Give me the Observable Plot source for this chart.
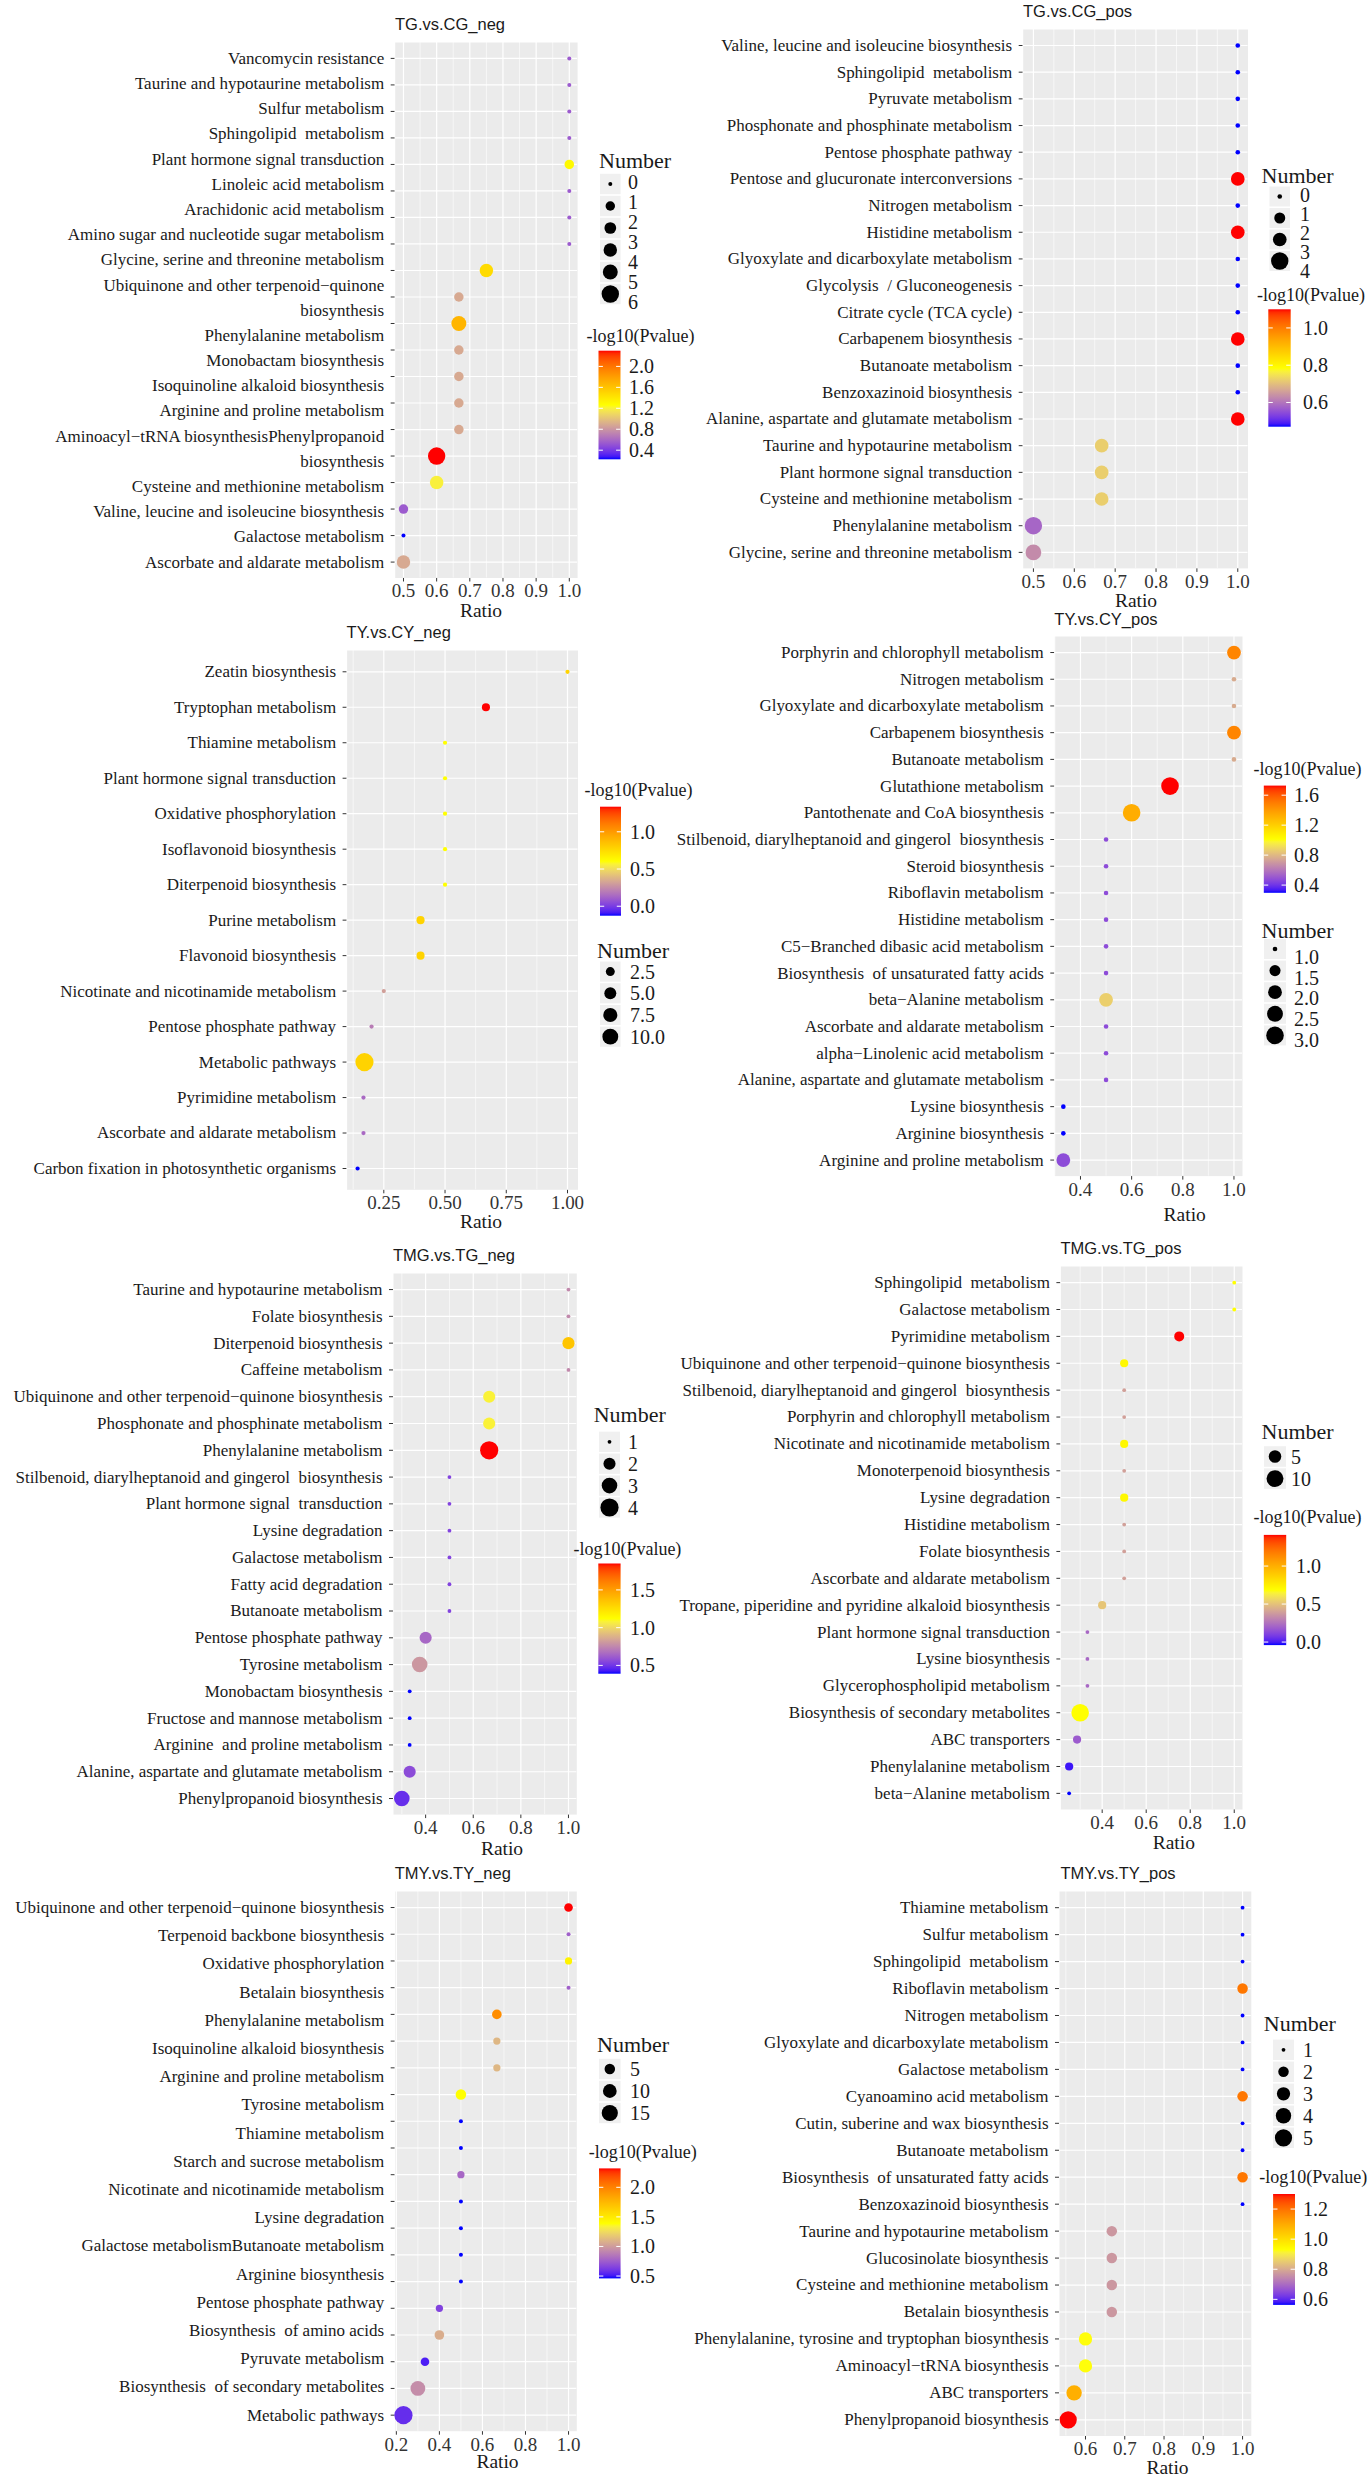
<!DOCTYPE html>
<html><head><meta charset="utf-8">
<script src="https://cdn.jsdelivr.net/npm/d3@7"></script>
<script src="https://cdn.jsdelivr.net/npm/@observablehq/plot@0.6"></script>
<style>
html,body{margin:0;padding:0;background:#fff;}
#page{position:relative;width:1370px;height:2479px;overflow:hidden;background:#fff;}
.panel{position:absolute;}
</style></head><body><div id="page"></div>
<script>
// ---------------- DATA ----------------
// Panel 1: TG.vs.CG_neg
const p1Pathways = ["Vancomycin resistance","Taurine and hypotaurine metabolism","Sulfur metabolism","Sphingolipid\u00a0 metabolism","Plant hormone signal transduction","Linoleic acid metabolism","Arachidonic acid metabolism","Amino sugar and nucleotide sugar metabolism","Glycine, serine and threonine metabolism","Ubiquinone and other terpenoid−quinone biosynthesis","Phenylalanine metabolism","Monobactam biosynthesis","Isoquinoline alkaloid biosynthesis","Arginine and proline metabolism","Aminoacyl−tRNA biosynthesis","Phenylpropanoid biosynthesis","Cysteine and methionine metabolism","Valine, leucine and isoleucine biosynthesis","Galactose metabolism","Ascorbate and aldarate metabolism"];
const p1Labels = ["Vancomycin resistance","Taurine and hypotaurine metabolism","Sulfur metabolism","Sphingolipid\u00a0 metabolism","Plant hormone signal transduction","Linoleic acid metabolism","Arachidonic acid metabolism","Amino sugar and nucleotide sugar metabolism","Glycine, serine and threonine metabolism","Ubiquinone and other terpenoid−quinone","biosynthesis","Phenylalanine metabolism","Monobactam biosynthesis","Isoquinoline alkaloid biosynthesis","Arginine and proline metabolism","Aminoacyl−tRNA biosynthesisPhenylpropanoid","biosynthesis","Cysteine and methionine metabolism","Valine, leucine and isoleucine biosynthesis","Galactose metabolism","Ascorbate and aldarate metabolism"];
const p1Ratio = [1,1,1,1,1,1,1,1,0.75,0.667,0.667,0.667,0.667,0.667,0.667,0.6,0.6,0.5,0.5,0.5];
const p1Number = [0,0,0,0,1,0,0,0,3,1,4,1,1,1,1,6,3,1,0,3];
const p1LogP = [0.54,0.54,0.54,0.54,1.30,0.54,0.54,0.54,1.47,0.89,1.68,0.89,0.89,0.89,0.89,2.30,1.20,0.54,0.226,0.89];
const p1XTicks = [0.5,0.6,0.7,0.8,0.9,1.0];
const p1SizeBreaks = [0,1,2,3,4,5,6];
const p1SizeKeys = [0,1,2,3,4,6];
const p1ColorBreaks = [0.4,0.8,1.2,1.6,2.0];

// Panel 2: TG.vs.CG_pos
const p2Pathways = ["Valine, leucine and isoleucine biosynthesis","Sphingolipid\u00a0 metabolism","Pyruvate metabolism","Phosphonate and phosphinate metabolism","Pentose phosphate pathway","Pentose and glucuronate interconversions","Nitrogen metabolism","Histidine metabolism","Glyoxylate and dicarboxylate metabolism","Glycolysis\u00a0 / Gluconeogenesis","Citrate cycle (TCA cycle)","Carbapenem biosynthesis","Butanoate metabolism","Benzoxazinoid biosynthesis","Alanine, aspartate and glutamate metabolism","Taurine and hypotaurine metabolism","Plant hormone signal transduction","Cysteine and methionine metabolism","Phenylalanine metabolism","Glycine, serine and threonine metabolism"];
const p2Ratio = [1,1,1,1,1,1,1,1,1,1,1,1,1,1,1,0.667,0.667,0.667,0.5,0.5];
const p2Number = [0,0,0,0,0,2,0,2,0,0,0,2,0,0,2,2,2,2,4,3];
const p2LogP = [0.47,0.47,0.47,0.47,0.47,1.10,0.47,1.10,0.47,0.47,0.47,1.10,0.47,0.47,1.10,0.72,0.72,0.72,0.58,0.63];
const p2XTicks = [0.5,0.6,0.7,0.8,0.9,1.0];
const p2SizeBreaks = [0,1,2,3,4];
const p2SizeKeys = [0,1,2,4];
const p2ColorBreaks = [0.6,0.8,1.0];

// Panel 3: TY.vs.CY_neg
const p3Pathways = ["Zeatin biosynthesis","Tryptophan metabolism","Thiamine metabolism","Plant hormone signal transduction","Oxidative phosphorylation","Isoflavonoid biosynthesis","Diterpenoid biosynthesis","Purine metabolism","Flavonoid biosynthesis","Nicotinate and nicotinamide metabolism","Pentose phosphate pathway","Metabolic pathways","Pyrimidine metabolism","Ascorbate and aldarate metabolism","Carbon fixation in photosynthetic organisms"];
const p3Ratio = [1.0,0.667,0.5,0.5,0.5,0.5,0.5,0.4,0.4,0.25,0.2,0.171,0.167,0.167,0.143];
const p3Number = [1,2,1,1,1,1,1,2,2,1,1,14,1,1,1];
const p3LogP = [0.78,1.337,0.605,0.605,0.605,0.605,0.605,0.78,0.78,0.31,0.2,0.78,0.14,0.14,-0.127];
const p3XTicks = [0.25,0.5,0.75,1.0];
const p3SizeBreaks = [2.5,5,7.5,10];
const p3ColorBreaks = [0.0,0.5,1.0];

// Panel 4: TY.vs.CY_pos
const p4Pathways = ["Porphyrin and chlorophyll metabolism","Nitrogen metabolism","Glyoxylate and dicarboxylate metabolism","Carbapenem biosynthesis","Butanoate metabolism","Glutathione metabolism","Pantothenate and CoA biosynthesis","Stilbenoid, diarylheptanoid and gingerol\u00a0 biosynthesis","Steroid biosynthesis","Riboflavin metabolism","Histidine metabolism","C5−Branched dibasic acid metabolism","Biosynthesis\u00a0 of unsaturated fatty acids","beta−Alanine metabolism","Ascorbate and aldarate metabolism","alpha−Linolenic acid metabolism","Alanine, aspartate and glutamate metabolism","Lysine biosynthesis","Arginine biosynthesis","Arginine and proline metabolism"];
const p4Ratio = [1,1,1,1,1,0.75,0.6,0.5,0.5,0.5,0.5,0.5,0.5,0.5,0.5,0.5,0.5,0.333,0.333,0.333];
const p4Number = [2,1,1,2,1,3,3,1,1,1,1,1,1,2,1,1,1,1,1,2];
const p4LogP = [1.47,0.76,0.76,1.47,0.76,1.728,1.33,0.47,0.47,0.47,0.47,0.47,0.47,0.87,0.47,0.47,0.47,0.297,0.297,0.47];
const p4XTicks = [0.4,0.6,0.8,1.0];
const p4SizeBreaks = [1,1.5,2,2.5,3];
const p4ColorBreaks = [0.4,0.8,1.2,1.6];

// Panel 5: TMG.vs.TG_neg
const p5Pathways = ["Taurine and hypotaurine metabolism","Folate biosynthesis","Diterpenoid biosynthesis","Caffeine metabolism","Ubiquinone and other terpenoid−quinone biosynthesis","Phosphonate and phosphinate metabolism","Phenylalanine metabolism","Stilbenoid, diarylheptanoid and gingerol\u00a0 biosynthesis","Plant hormone signal\u00a0 transduction","Lysine degradation","Galactose metabolism","Fatty acid degradation","Butanoate metabolism","Pentose phosphate pathway","Tyrosine metabolism","Monobactam biosynthesis","Fructose and mannose metabolism","Arginine\u00a0 and proline metabolism","Alanine, aspartate and glutamate metabolism","Phenylpropanoid biosynthesis"];
const p5Ratio = [1,1,1,1,0.667,0.667,0.667,0.5,0.5,0.5,0.5,0.5,0.5,0.4,0.375,0.333,0.333,0.333,0.333,0.3];
const p5Number = [1,1,2,1,2,2,4,1,1,1,1,1,1,2,3,1,1,1,2,3];
const p5LogP = [0.755,0.755,1.35,0.755,1.08,1.08,1.85,0.54,0.54,0.54,0.54,0.54,0.54,0.65,0.8,0.39,0.39,0.39,0.565,0.48];
const p5XTicks = [0.4,0.6,0.8,1.0];
const p5SizeBreaks = [1,2,3,4];
const p5ColorBreaks = [0.5,1.0,1.5];

// Panel 6: TMG.vs.TG_pos
const p6Pathways = ["Sphingolipid\u00a0 metabolism","Galactose metabolism","Pyrimidine metabolism","Ubiquinone and other terpenoid−quinone biosynthesis","Stilbenoid, diarylheptanoid and gingerol\u00a0 biosynthesis","Porphyrin and chlorophyll metabolism","Nicotinate and nicotinamide metabolism","Monoterpenoid biosynthesis","Lysine degradation","Histidine metabolism","Folate biosynthesis","Ascorbate and aldarate metabolism","Tropane, piperidine and pyridine alkaloid biosynthesis","Plant hormone signal transduction","Lysine biosynthesis","Glycerophospholipid metabolism","Biosynthesis of secondary metabolites","ABC transporters","Phenylalanine metabolism","beta−Alanine metabolism"];
const p6Ratio = [1,1,0.75,0.5,0.5,0.5,0.5,0.5,0.5,0.5,0.5,0.5,0.4,0.333,0.333,0.333,0.3,0.286,0.25,0.25];
const p6Number = [1,1,3,2,1,1,2,1,2,1,1,1,2,1,1,1,11,2,2,1];
const p6LogP = [0.685,0.685,1.41,0.714,0.395,0.395,0.714,0.395,0.714,0.395,0.395,0.395,0.51,0.22,0.22,0.22,0.685,0.18,-0.01,-0.04];
const p6XTicks = [0.4,0.6,0.8,1.0];
const p6SizeBreaks = [5,10];
const p6ColorBreaks = [0.0,0.5,1.0];

// Panel 7: TMY.vs.TY_neg
const p7Pathways = ["Ubiquinone and other terpenoid−quinone biosynthesis","Terpenoid backbone biosynthesis","Oxidative phosphorylation","Betalain biosynthesis","Phenylalanine metabolism","Isoquinoline alkaloid biosynthesis","Arginine and proline metabolism","Tyrosine metabolism","Thiamine metabolism","Starch and sucrose metabolism","Nicotinate and nicotinamide metabolism","Lysine degradation","Galactose metabolism","Butanoate metabolism","Arginine biosynthesis","Pentose phosphate pathway","Biosynthesis of amino acids","Pyruvate metabolism","Biosynthesis of secondary metabolites","Metabolic pathways"];
const p7Labels = ["Ubiquinone and other terpenoid−quinone biosynthesis","Terpenoid backbone biosynthesis","Oxidative phosphorylation","Betalain biosynthesis","Phenylalanine metabolism","Isoquinoline alkaloid biosynthesis","Arginine and proline metabolism","Tyrosine metabolism","Thiamine metabolism","Starch and sucrose metabolism","Nicotinate and nicotinamide metabolism","Lysine degradation","Galactose metabolismButanoate metabolism","Arginine biosynthesis","Pentose phosphate pathway","Biosynthesis\u00a0 of amino acids","Pyruvate metabolism","Biosynthesis\u00a0 of secondary metabolites","Metabolic pathways"];
const p7Ratio = [1,1,1,1,0.667,0.667,0.667,0.5,0.5,0.5,0.5,0.5,0.5,0.5,0.5,0.4,0.4,0.333,0.3,0.233];
const p7Number = [3,1,2,1,4,2,2,5,1,1,2,1,1,1,1,2,4,3,12,20];
const p7LogP = [2.32,0.76,1.45,0.76,1.95,1.11,1.11,1.39,0.46,0.46,0.79,0.46,0.46,0.46,0.46,0.65,1.07,0.52,0.94,0.57];
const p7XTicks = [0.2,0.4,0.6,0.8,1.0];
const p7SizeBreaks = [5,10,15];
const p7ColorBreaks = [0.5,1.0,1.5,2.0];

// Panel 8: TMY.vs.TY_pos
const p8Pathways = ["Thiamine metabolism","Sulfur metabolism","Sphingolipid\u00a0 metabolism","Riboflavin metabolism","Nitrogen metabolism","Glyoxylate and dicarboxylate metabolism","Galactose metabolism","Cyanoamino acid metabolism","Cutin, suberine and wax biosynthesis","Butanoate metabolism","Biosynthesis\u00a0 of unsaturated fatty acids","Benzoxazinoid biosynthesis","Taurine and hypotaurine metabolism","Glucosinolate biosynthesis","Cysteine and methionine metabolism","Betalain biosynthesis","Phenylalanine, tyrosine and tryptophan biosynthesis","Aminoacyl−tRNA biosynthesis","ABC transporters","Phenylpropanoid biosynthesis"];
const p8Ratio = [1,1,1,1,1,1,1,1,1,1,1,1,0.667,0.667,0.667,0.667,0.6,0.6,0.571,0.556];
const p8Number = [1,1,1,2,1,1,1,2,1,1,2,1,2,2,2,2,3,3,4,5];
const p8LogP = [0.563,0.563,0.563,1.19,0.563,0.563,0.563,1.19,0.563,0.563,1.19,0.563,0.77,0.77,0.77,0.77,0.93,0.93,1.09,1.30];
const p8XTicks = [0.6,0.7,0.8,0.9,1.0];
const p8SizeBreaks = [1,2,3,4,5];
const p8ColorBreaks = [0.6,0.8,1.0,1.2];

// ---------------- LAYOUT / STYLE ----------------
const SERIF = "'Liberation Serif','Times New Roman',serif";
const SANS = "'Liberation Sans',Arial,sans-serif";

const panels = [
  {title:"TG.vs.CG_neg", pathways:p1Pathways, labels:p1Labels, ratio:p1Ratio, number:p1Number, logp:p1LogP, xTicks:p1XTicks, sizeBreaks:p1SizeBreaks, sizeKeys:p1SizeKeys, colorBreaks:p1ColorBreaks,
   L:{svgLeft:0, frame:[394.7,577.1,41.5,577], titlePos:[395,24.5], ratioPos:[481,610], xFmt:".1f", sizeFmt:"d", rRange:[2,8.7],
      size:{titleX:599,titleY:160.5,keyX:600,keyW:20.6,y0:184,step:22,labelY0:181.7,labelStep:20,labelX:628},
      color:{titleX:586.6,titleY:336,barX:598.5,barW:22,top:350.7,bottom:459.3,labelX:629}}},
  {title:"TG.vs.CG_pos", pathways:p2Pathways, ratio:p2Ratio, number:p2Number, logp:p2LogP, xTicks:p2XTicks, sizeBreaks:p2SizeBreaks, sizeKeys:p2SizeKeys, colorBreaks:p2ColorBreaks,
   L:{svgLeft:650, frame:[1022.7,1247.5,28.5,567.4], titlePos:[1023,11], ratioPos:[1136,600], xFmt:".1f", sizeFmt:"d", rRange:[2.3,8.7],
      size:{titleX:1261.5,titleY:175,keyX:1269.5,keyW:20.5,y0:196.5,step:21.5,labelY0:195,labelStep:19,labelX:1300},
      color:{titleX:1257,titleY:295,barX:1268.3,barW:22.4,top:309.3,bottom:426.7,labelX:1303}}},
  {title:"TY.vs.CY_neg", pathways:p3Pathways, ratio:p3Ratio, number:p3Number, logp:p3LogP, xTicks:p3XTicks, sizeBreaks:p3SizeBreaks, colorBreaks:p3ColorBreaks,
   L:{svgLeft:0, frame:[346.6,577.5,649.7,1189], titlePos:[346.6,632.5], ratioPos:[481,1221], xFmt:".2f", sizeFmt:".1f", rRange:[2.1,9.1],
      size:{titleX:597,titleY:950,keyX:600,keyW:20.6,y0:971.6,step:21.7,labelX:630},
      color:{titleX:584.6,titleY:789.4,barX:600,barW:21,top:806.7,bottom:915.7,labelX:630}}},
  {title:"TY.vs.CY_pos", pathways:p4Pathways, ratio:p4Ratio, number:p4Number, logp:p4LogP, xTicks:p4XTicks, sizeBreaks:p4SizeBreaks, colorBreaks:p4ColorBreaks,
   L:{svgLeft:650, frame:[1054.3,1242,636.4,1176], titlePos:[1054.3,619], ratioPos:[1184.7,1214], xFmt:".1f", sizeFmt:".1f", rRange:[2.3,8.8],
      size:{titleX:1261.5,titleY:930,keyX:1264,keyW:22,y0:949,step:21.6,labelY0:956.7,labelStep:20.8,labelX:1294},
      color:{titleX:1253.6,titleY:768.4,barX:1263.8,barW:22.2,top:785.6,bottom:892.8,labelX:1294}}},
  {title:"TMG.vs.TG_neg", pathways:p5Pathways, ratio:p5Ratio, number:p5Number, logp:p5LogP, xTicks:p5XTicks, sizeBreaks:p5SizeBreaks, colorBreaks:p5ColorBreaks,
   L:{svgLeft:0, frame:[393,576.3,1272.9,1814], titlePos:[393,1255.3], ratioPos:[502,1848.4], xFmt:".1f", sizeFmt:"d", rRange:[1.9,9.1],
      size:{titleX:593.7,titleY:1414.5,keyX:599,keyW:21,y0:1441.8,step:21.9,labelX:628},
      color:{titleX:573.4,titleY:1549,barX:598.3,barW:22.3,top:1563.5,bottom:1673.7,labelX:630}}},
  {title:"TMG.vs.TG_pos", pathways:p6Pathways, ratio:p6Ratio, number:p6Number, logp:p6LogP, xTicks:p6XTicks, sizeBreaks:p6SizeBreaks, colorBreaks:p6ColorBreaks,
   L:{svgLeft:650, frame:[1060.4,1242,1265.5,1808.5], titlePos:[1060.4,1248.4], ratioPos:[1173.8,1842], xFmt:".1f", sizeFmt:"d", rRange:[1.9,8.8],
      size:{titleX:1261.5,titleY:1430.8,keyX:1264,keyW:22,y0:1456.5,step:22.1,labelX:1291},
      color:{titleX:1253.6,titleY:1516.5,barX:1263.8,barW:22.4,top:1534.9,bottom:1645.1,labelX:1296}}},
  {title:"TMY.vs.TY_neg", pathways:p7Pathways, labels:p7Labels, ratio:p7Ratio, number:p7Number, logp:p7LogP, xTicks:p7XTicks, sizeBreaks:p7SizeBreaks, colorBreaks:p7ColorBreaks,
   L:{svgLeft:0, frame:[394.7,576.3,1891,2430.7], titlePos:[394.7,1873.1], ratioPos:[497.5,2461], xFmt:".1f", sizeFmt:"d", rRange:[2.0,9.1],
      size:{titleX:597,titleY:2044.6,keyX:599,keyW:21.6,y0:2069,step:22,labelX:630},
      color:{titleX:588.7,titleY:2151.3,barX:599,barW:21.6,top:2168.4,bottom:2278.4,labelX:630}}},
  {title:"TMY.vs.TY_pos", pathways:p8Pathways, ratio:p8Ratio, number:p8Number, logp:p8LogP, xTicks:p8XTicks, sizeBreaks:p8SizeBreaks, colorBreaks:p8ColorBreaks,
   L:{svgLeft:650, frame:[1059,1250.8,1891,2435.5], titlePos:[1060.4,1873.1], ratioPos:[1167.5,2467], xFmt:".1f", sizeFmt:"d", rRange:[1.9,8.6],
      size:{titleX:1263.8,titleY:2023.3,keyX:1273,keyW:21,y0:2049.8,step:22,labelX:1303},
      color:{titleX:1259.2,titleY:2176.9,barX:1273.1,barW:21.9,top:2194,bottom:2304.9,labelX:1303}}}
];

const page = document.getElementById("page");
const EPS = 1e-6;
const legendJobs = [];

panels.forEach((P, pi) => {
  const L = P.L;
  const n = P.pathways.length;
  const rows = d3.range(n);
  const data = rows.map(i => ({i, name: P.pathways[i], ratio: P.ratio[i], num: P.number[i], lp: P.logp[i]}));
  const [xa, xb] = d3.extent(P.ratio);
  const ex = (xb - xa) * 0.05;
  const xlo = xa - ex, xhi = xb + ex;
  const [ca, cb] = d3.extent(P.logp);
  const [na, nb] = d3.extent(P.number);
  const [x0, x1, y0, y1] = L.frame;
  const mt = 10, mb = 44, mr = 26;
  const ml = x0 - L.svgLeft;
  const width = ml + (x1 - x0) + mr;
  const height = mt + (y1 - y0) + mb;
  const majors = P.xTicks;
  const step = majors[1] - majors[0];
  const minors = [majors[0] - step / 2, ...majors.map(t => t + step / 2)].filter(t => t >= xlo - 1e-9 && t <= xhi + 1e-9);
  const labels = P.labels || P.pathways;
  const m = labels.length;
  const colorOpts = {type: "linear", domain: [ca, (ca + cb) / 2, cb], range: ["blue", "yellow", "red"], interpolate: d3.interpolateLab};
  const rOpts = {type: "sqrt", domain: [0, nb - na], range: L.rRange};

  const plot = Plot.plot({
    width, height,
    marginLeft: ml, marginRight: mr, marginTop: mt, marginBottom: mb,
    style: {background: "none", overflow: "visible", maxWidth: "none", fontFamily: SERIF, fontSize: "19px", color: "#333"},
    x: {domain: [xlo, xhi], ticks: majors, tickFormat: d3.format(L.xFmt), tickSize: 4, tickPadding: 2, label: null},
    y: {domain: [-0.6, n - 0.4], reverse: true, ticks: rows, tickFormat: () => "", tickSize: 4, label: null},
    r: rOpts,
    color: colorOpts,
    marks: [
      Plot.frame({fill: "#EBEBEB", stroke: "none"}),
      Plot.ruleX(minors, {stroke: "white", strokeWidth: 0.6}),
      Plot.ruleX(majors, {stroke: "white", strokeWidth: 1.2}),
      Plot.ruleY(rows, {stroke: "white", strokeWidth: 1.2}),
      Plot.dot(data, {x: "ratio", y: "i", r: d => d.num - na + EPS, fill: "lp"}),
      Plot.text(labels, {y: (d, k) => (m === 1 ? 0 : k * (n - 1) / (m - 1)), text: d => d, frameAnchor: "left", textAnchor: "end", dx: -11, fontSize: 17, fill: "#1a1a1a"})
    ]
  });
  const div = document.createElement("div");
  div.className = "panel";
  div.style.left = L.svgLeft + "px";
  div.style.top = (y0 - mt) + "px";
  div.appendChild(plot);
  page.appendChild(div);

  // scales for legends, taken from the plot
  let cApply, rApply;
  try { const cs = plot.scale("color"); cApply = cs && cs.apply ? (v => cs.apply(v)) : null; } catch (e) { cApply = null; }
  try { const rs = plot.scale("r"); rApply = rs && rs.apply ? (v => rs.apply(v)) : null; } catch (e) { rApply = null; }
  if (!cApply) { const s = d3.scaleLinear().domain(colorOpts.domain).range(colorOpts.range).interpolate(d3.interpolateLab); cApply = v => s(v); }
  if (!rApply) { const s = d3.scaleSqrt().domain(rOpts.domain).range(rOpts.range); rApply = v => s(v); }
  legendJobs.push({P, L, ca, cb, na, cApply, rApply, pi});
});

// ---------------- OVERLAY: titles, axis titles, legends ----------------
const svg = d3.select(page).append("svg")
  .attr("width", 1370).attr("height", 2479)
  .style("position", "absolute").style("left", "0px").style("top", "0px")
  .style("pointer-events", "none").style("font-family", SERIF);
const defs = svg.append("defs");

legendJobs.forEach(({P, L, ca, cb, na, cApply, rApply, pi}) => {
  const g = svg.append("g");
  // panel title
  g.append("text").attr("x", L.titlePos[0]).attr("y", L.titlePos[1]).attr("dy", "0.35em")
    .attr("font-family", SANS).attr("font-size", 16.5).attr("fill", "#1a1a1a").text(P.title);
  // x axis title
  g.append("text").attr("x", L.ratioPos[0]).attr("y", L.ratioPos[1]).attr("dy", "0.35em")
    .attr("text-anchor", "middle").attr("font-size", 19.5).attr("fill", "#1a1a1a").text("Ratio");

  // size legend
  const S = L.size;
  const sf = L.sizeFmt === "d" ? (v => String(v)) : d3.format(L.sizeFmt);
  const keys = P.sizeKeys || P.sizeBreaks;
  const ly0 = S.labelY0 !== undefined ? S.labelY0 : S.y0;
  const lstep = S.labelStep !== undefined ? S.labelStep : S.step;
  g.append("text").attr("x", S.titleX).attr("y", S.titleY).attr("dy", "0.35em").attr("font-size", 22).attr("fill", "#1a1a1a").text("Number");
  keys.forEach((b, k) => {
    const cy = S.y0 + k * S.step;
    g.append("rect").attr("x", S.keyX).attr("y", cy - S.step / 2 + 0.8).attr("width", S.keyW).attr("height", S.step - 1.6).attr("fill", "#F0F0F0");
    g.append("circle").attr("cx", S.keyX + S.keyW / 2).attr("cy", cy).attr("r", rApply(b - na + EPS)).attr("fill", "black");
  });
  P.sizeBreaks.forEach((b, k) => {
    const cy = ly0 + k * lstep;
    g.append("text").attr("x", S.labelX).attr("y", cy).attr("dy", "0.35em").attr("font-size", 20).attr("fill", "#1a1a1a").text(sf(b));
  });

  // colour bar
  const C = L.color;
  const gid = "grad" + pi;
  const grad = defs.append("linearGradient").attr("id", gid).attr("x1", 0).attr("y1", 1).attr("x2", 0).attr("y2", 0);
  d3.range(0, 41).forEach(k => {
    const t = k / 40;
    grad.append("stop").attr("offset", t).attr("stop-color", cApply(ca + t * (cb - ca)));
  });
  g.append("text").attr("x", C.titleX).attr("y", C.titleY).attr("dy", "0.35em").attr("font-size", 18).attr("fill", "#1a1a1a").text("-log10(Pvalue)");
  g.append("rect").attr("x", C.barX).attr("y", C.top).attr("width", C.barW).attr("height", C.bottom - C.top).attr("fill", `url(#${gid})`);
  const cf = d3.format(".1f");
  P.colorBreaks.forEach(b => {
    const y = C.bottom - (b - ca) / (cb - ca) * (C.bottom - C.top);
    const tw = C.barW / 5;
    g.append("line").attr("x1", C.barX).attr("x2", C.barX + tw).attr("y1", y).attr("y2", y).attr("stroke", "white").attr("stroke-width", 1);
    g.append("line").attr("x1", C.barX + C.barW - tw).attr("x2", C.barX + C.barW).attr("y1", y).attr("y2", y).attr("stroke", "white").attr("stroke-width", 1);
    g.append("text").attr("x", C.labelX).attr("y", y).attr("dy", "0.35em").attr("font-size", 20).attr("fill", "#1a1a1a").text(cf(b));
  });
});
</script></body></html>
